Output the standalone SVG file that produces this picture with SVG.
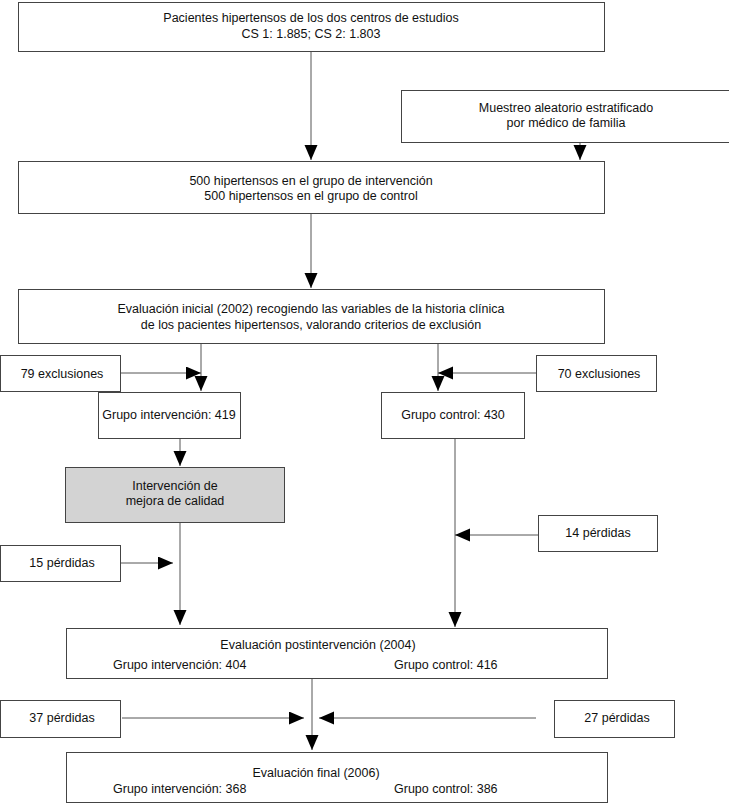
<svg xmlns="http://www.w3.org/2000/svg" width="729" height="807" viewBox="0 0 729 807">
<style>
.box{fill:#fff;stroke:#444;stroke-width:1}
.gray{fill:#d3d3d3;stroke:#444;stroke-width:1}
.ln{stroke:#555;stroke-width:1;fill:none}
text{font-family:"Liberation Sans",Arial,sans-serif;font-size:12.5px;fill:#111}
.c{text-anchor:middle}
</style>
<defs>
<marker id="ah" markerUnits="userSpaceOnUse" markerWidth="16" markerHeight="14" refX="15" refY="6.5" orient="auto">
<path d="M0,0 L15,6.5 L0,13 Z" fill="#000"/>
</marker>
</defs>
<g id="connectors">
<line class="ln" x1="311" y1="51" x2="311" y2="160" marker-end="url(#ah)"/>
<line class="ln" x1="580" y1="142" x2="580" y2="160" marker-end="url(#ah)"/>
<line class="ln" x1="311" y1="213" x2="311" y2="288" marker-end="url(#ah)"/>
<line class="ln" x1="201" y1="343" x2="201" y2="391" marker-end="url(#ah)"/>
<line class="ln" x1="438" y1="343" x2="438" y2="391" marker-end="url(#ah)"/>
<line class="ln" x1="121" y1="373" x2="201" y2="373" marker-end="url(#ah)"/>
<line class="ln" x1="536" y1="373" x2="438" y2="373" marker-end="url(#ah)"/>
<line class="ln" x1="180" y1="438" x2="180" y2="466" marker-end="url(#ah)"/>
<line class="ln" x1="455" y1="438" x2="455" y2="627" marker-end="url(#ah)"/>
<line class="ln" x1="538" y1="535" x2="455" y2="535" marker-end="url(#ah)"/>
<line class="ln" x1="180" y1="522" x2="180" y2="625" marker-end="url(#ah)"/>
<line class="ln" x1="120" y1="563" x2="173" y2="563" marker-end="url(#ah)"/>
<line class="ln" x1="312" y1="678" x2="312" y2="750" marker-end="url(#ah)"/>
<line class="ln" x1="122" y1="718" x2="304" y2="718" marker-end="url(#ah)"/>
<line class="ln" x1="536" y1="718" x2="319" y2="718" marker-end="url(#ah)"/>
</g>
<g id="n-pacientes"><rect class="box" x="18.5" y="2.5" width="586" height="49"/>
<text class="c" x="311" y="22">Pacientes hipertensos de los dos centros de estudios</text>
<text class="c" x="311" y="38">CS 1: 1.885; CS 2: 1.803</text></g>
<g id="n-muestreo"><rect class="box" x="401.5" y="90.5" width="329" height="52"/>
<text class="c" x="566" y="112">Muestreo aleatorio estratificado</text>
<text class="c" x="566" y="127">por médico de familia</text></g>
<g id="n-500"><rect class="box" x="18.5" y="161.5" width="586" height="52"/>
<text class="c" x="311" y="185">500 hipertensos en el grupo de intervención</text>
<text class="c" x="311" y="200">500 hipertensos en el grupo de control</text></g>
<g id="n-evalini"><rect class="box" x="18.5" y="289.5" width="586" height="54"/>
<text class="c" x="311" y="313">Evaluación inicial (2002) recogiendo las variables de la historia clínica</text>
<text class="c" x="311" y="329">de los pacientes hipertensos, valorando criterios de exclusión</text></g>
<g id="n-79"><rect class="box" x="0.5" y="355.5" width="120" height="36"/>
<text class="c" x="62" y="378">79 exclusiones</text></g>
<g id="n-70"><rect class="box" x="536.5" y="355.5" width="120" height="36"/>
<text class="c" x="599" y="378">70 exclusiones</text></g>
<g id="n-gi419"><rect class="box" x="98.5" y="392.5" width="142" height="46"/>
<text class="c" x="169" y="419">Grupo intervención: 419</text></g>
<g id="n-gc430"><rect class="box" x="381.5" y="392.5" width="143" height="46"/>
<text class="c" x="453" y="419">Grupo control: 430</text></g>
<g id="n-interv"><rect class="gray" x="65.5" y="467.5" width="219" height="55"/>
<text class="c" x="175" y="490">Intervención de</text>
<text class="c" x="175" y="505">mejora de calidad</text></g>
<g id="n-14"><rect class="box" x="538.5" y="515.5" width="119" height="36"/>
<text class="c" x="598" y="537">14 pérdidas</text></g>
<g id="n-15"><rect class="box" x="0.5" y="545.5" width="120" height="36"/>
<text class="c" x="62" y="567">15 pérdidas</text></g>
<g id="n-post"><rect class="box" x="66.5" y="628.5" width="541" height="50"/>
<text class="c" x="318" y="649">Evaluación postintervención (2004)</text>
<text x="113" y="669">Grupo intervención: 404</text>
<text x="394" y="669">Grupo control: 416</text></g>
<g id="n-37"><rect class="box" x="0.5" y="700.5" width="120" height="37"/>
<text class="c" x="62" y="722">37 pérdidas</text></g>
<g id="n-27"><rect class="box" x="554.5" y="700.5" width="120" height="37"/>
<text class="c" x="617" y="722">27 pérdidas</text></g>
<g id="n-final"><rect class="box" x="66.5" y="752.5" width="541" height="50"/>
<text class="c" x="316" y="777">Evaluación final (2006)</text>
<text x="113" y="793">Grupo intervención: 368</text>
<text x="394" y="793">Grupo control: 386</text></g>
</svg>
